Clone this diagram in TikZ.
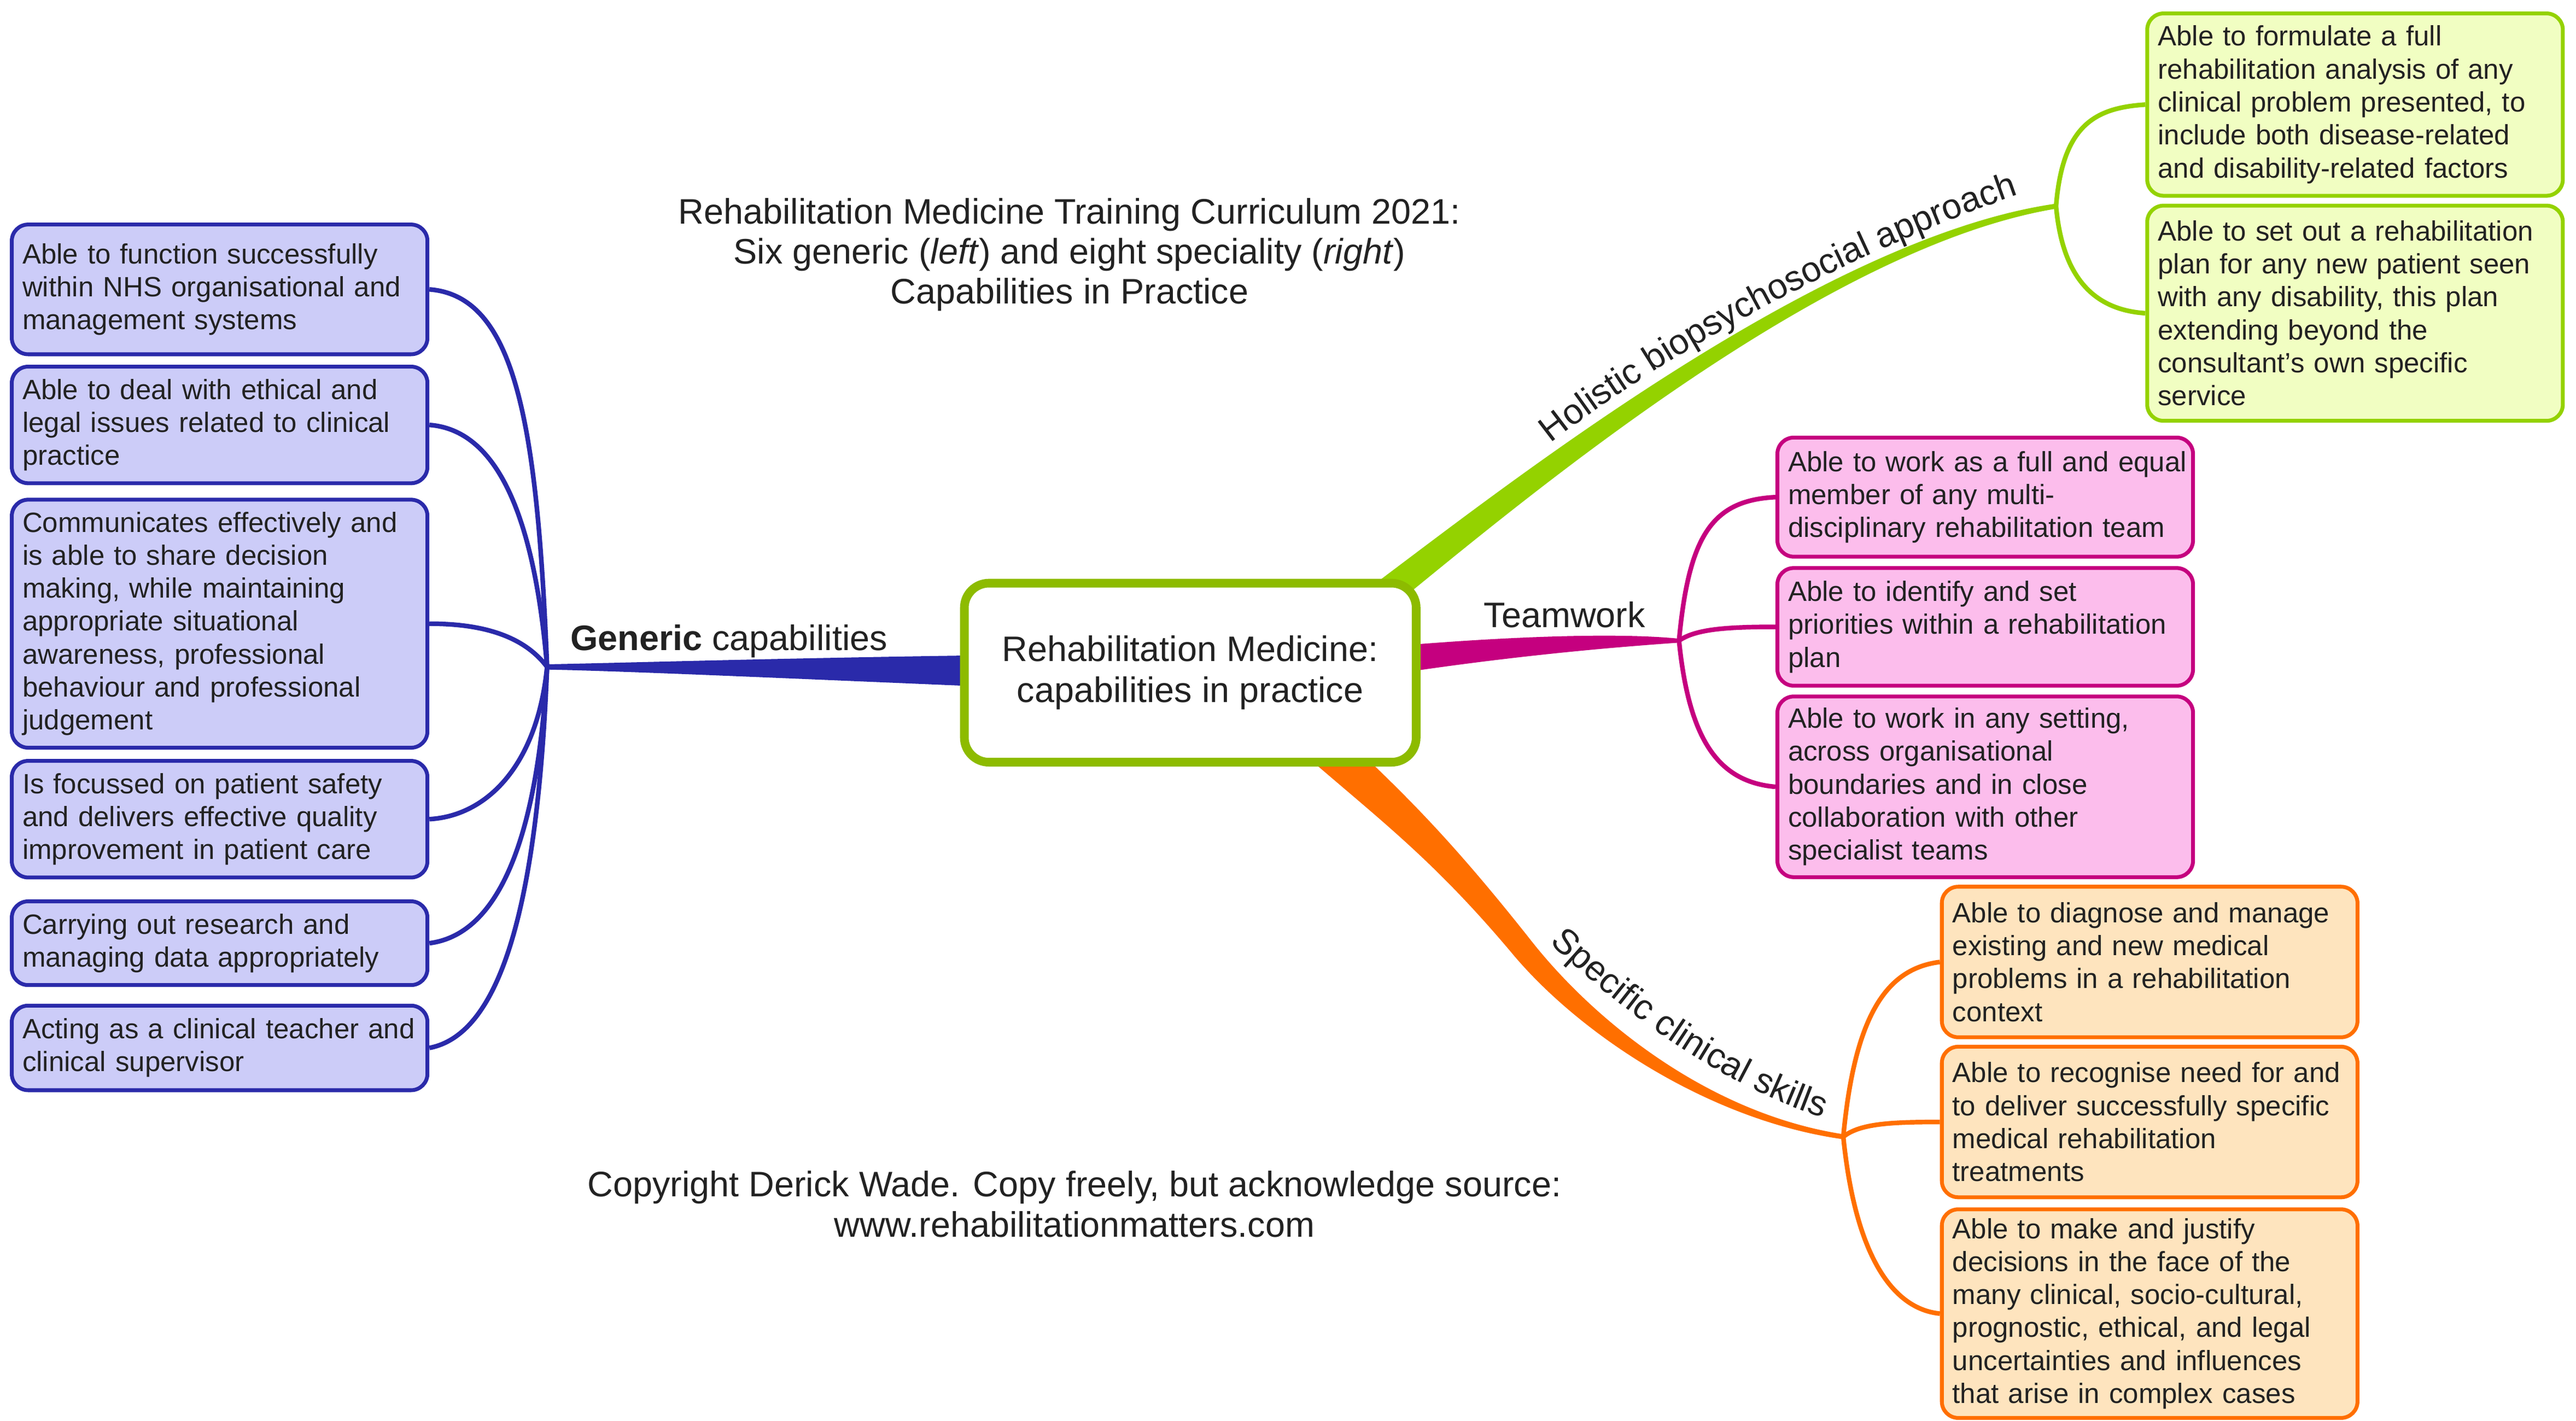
\documentclass[tikz,border=0pt]{standalone}
\usepackage{fontspec}
\setmainfont{Liberation Sans}
\usetikzlibrary{decorations.text}

\definecolor{ink}{HTML}{222222}
\definecolor{genline}{HTML}{2A2AAA}
\definecolor{genfill}{HTML}{CCCCF8}
\definecolor{holline}{HTML}{94D200}
\definecolor{holfill}{HTML}{F1FEC2}
\definecolor{teamline}{HTML}{C5007F}
\definecolor{teamfill}{HTML}{FCBDEC}
\definecolor{specline}{HTML}{FF6F00}
\definecolor{specfill}{HTML}{FEE4BE}
\definecolor{hubring}{HTML}{8DBB00}

\newcommand\boxfont{\fontsize{14.5pt}{17.13pt}\selectfont}
\newcommand\branchfont{\fontsize{18.4pt}{20.8pt}\selectfont}
\newcommand\centrefont{\fontsize{18.4pt}{21.5pt}\selectfont}

\begin{document}
\begin{tikzpicture}[x=0.03cm,y=-0.03cm,
    capbox/.style={draw,line width=2pt,rounded corners=0.3cm,anchor=north west,
      text width=7.2cm,inner xsep=0.195cm,inner ysep=0pt,align=left,font=\boxfont,text=ink},
    genbox/.style={capbox,draw=genline,fill=genfill},
    holbox/.style={capbox,draw=holline,fill=holfill},
    teambox/.style={capbox,draw=teamline,fill=teamfill},
    specbox/.style={capbox,draw=specline,fill=specfill},
    centrebox/.style={draw=hubring,line width=4.5pt,rounded corners=0.45cm,fill=white,
      minimum width=8.25cm,minimum height=3.27cm,align=center,font=\centrefont,text=ink},
    twig/.style={line width=2.4pt},
    plaintext/.style={font=\branchfont,text=ink,inner sep=0pt,align=center}]
    \useasboundingbox (0,0) rectangle (1568,865);
    \fill[white] (0,0) rectangle (1568,865);

    \coordinate (genhub) at (333,406);
    \coordinate (holhub) at (1251.5,125.5);
    \coordinate (teamhub) at (1022,390);
    \coordinate (spechub) at (1122,692);

    \fill[genline] (600,398.9) .. controls (480,400.5) and (380,403.5) .. (333,404.4)
      -- (333,407.6) .. controls (380,408.5) and (480,413) .. (600,418) -- cycle;
    \fill[holline] (829.5,360.9) .. controls (905.7,304.5) and (1104.5,145) .. (1251.3,124)
      -- (1251.7,127) .. controls (1105.5,151) and (914.3,315.5) .. (840.5,375.1) -- cycle;
    \fill[teamline] (850,393.2) .. controls (930,386.5) and (990,385.5) .. (1022,388.8)
      -- (1022,391.2) .. controls (990,393.5) and (930,398) .. (850,410) -- cycle;
    \fill[specline] (812.9,444) .. controls (857.25,484.7) and (886.2,514.9) .. (930.4,570.6)
      .. controls (969.6,621.2) and (1040.3,678) .. (1122.2,690.5)
      -- (1121.8,693.5) .. controls (1039.7,682) and (960.4,628.8) .. (919.6,579.4)
      .. controls (873.8,525.1) and (842.75,501.3) .. (797.1,462) -- cycle;

    \node[centrebox] (centre) at (724.5,409.5) {Rehabilitation Medicine:\\ capabilities in practice};

    \node[genbox,minimum height=2.37cm] (g1) at (6,135.5) {Able to function successfully\\within NHS organisational and\\management systems};
    \node[genbox,minimum height=2.13cm] (g2) at (6,222) {Able to deal with ethical and\\legal issues related to clinical\\practice};
    \node[genbox,minimum height=4.53cm] (g3) at (6,303) {Communicates effectively and\\is able to share decision\\making, while maintaining\\appropriate situational\\awareness, professional\\behaviour and professional\\judgement};
    \node[genbox,minimum height=2.13cm] (g4) at (6,462) {Is focussed on patient safety\\and delivers effective quality\\improvement in patient care};
    \node[genbox,minimum height=1.53cm] (g5) at (6,547.5) {Carrying out research and\\managing data appropriately};
    \node[genbox,minimum height=1.545cm] (g6) at (6,611) {\mbox{Acting as a clinical teacher and}\\clinical supervisor};

    \node[holbox,minimum height=3.33cm] (h1) at (1305.8,7) {Able to formulate a full\\rehabilitation analysis of any\\clinical problem presented, to\\include both disease-related\\and disability-related factors};
    \node[holbox,minimum height=3.93cm] (h2) at (1305.8,124) {Able to set out a rehabilitation\\plan for any new patient seen\\with any disability, this plan\\extending beyond the\\consultant’s own specific\\service};

    \node[teambox,minimum height=2.175cm] (t1) at (1080.7,265.2) {\mbox{Able to work as a full and equal}\\member of any multi-\\disciplinary rehabilitation team};
    \node[teambox,minimum height=2.15cm] (t2) at (1080.7,344.6) {Able to identify and set\\priorities within a rehabilitation\\plan};
    \node[teambox,minimum height=3.3cm] (t3) at (1080.7,422.8) {Able to work in any setting,\\across organisational\\boundaries and in close\\collaboration with other\\specialist teams};

    \node[specbox,minimum height=2.75cm] (s1) at (1180.8,538.6) {Able to diagnose and manage\\existing and new medical\\problems in a rehabilitation\\context};
    \node[specbox,minimum height=2.75cm] (s2) at (1180.8,636) {\mbox{Able to recognise need for and}\\to deliver successfully specific\\medical rehabilitation\\treatments};
    \node[specbox,minimum height=3.81cm] (s3) at (1180.8,735) {Able to make and justify\\decisions in the face of the\\many clinical, socio-cultural,\\prognostic, ethical, and legal\\uncertainties and influences\\that arise in complex cases};

    \draw[twig,genline] (genhub) .. controls +(-6,-150) and +(52,4) .. (g1.east);
    \draw[twig,genline] (genhub) .. controls +(-8,-95) and +(40,3) .. (g2.east);
    \draw[twig,genline] (genhub) .. controls +(-15,-20) and +(30,0) .. (g3.east);
    \draw[twig,genline] (genhub) .. controls +(-6,60) and +(35,-2) .. (g4.east);
    \draw[twig,genline] (genhub) .. controls +(-6,110) and +(40,-5) .. (g5.east);
    \draw[twig,genline] (genhub) .. controls +(-6,150) and +(42,-8) .. (g6.east);
    \draw[twig,holline] (holhub) .. controls +(4,-50) and +(-30,2) .. (h1.west);
    \draw[twig,holline] (holhub) .. controls +(4,45) and +(-30,-2) .. (h2.west);
    \draw[twig,teamline] (teamhub) .. controls +(6,-65) and +(-38,2) .. (t1.west);
    \draw[twig,teamline] (teamhub) .. controls +(10,-7) and +(-30,0) .. (t2.west);
    \draw[twig,teamline] (teamhub) .. controls +(6,60) and +(-35,-3) .. (t3.west);
    \draw[twig,specline] (spechub) .. controls +(7,-75) and +(-32,4) .. (s1.west);
    \draw[twig,specline] (spechub) .. controls +(10,-8) and +(-30,0) .. (s2.west);
    \draw[twig,specline] (spechub) .. controls +(7,70) and +(-30,-3) .. (s3.west);

    \node[plaintext,anchor=base west] (genlabel) at (347,396) {\textbf{Generic} capabilities};
    \node[plaintext,anchor=base west] (teamlabel) at (903,382) {Teamwork};
    \path[decorate,decoration={text along path,text align=center,text color=ink,
      text={|\branchfont|Holistic biopsychosocial approach}}]
      (928,283) .. controls (993,227) and (1123,152) .. (1248,112);
    \path[decorate,decoration={text along path,text align=center,text color=ink,
      text={|\branchfont|Specific clinical skills}}]
      (935,566) .. controls (975,605) and (1040,660) .. (1120,684);

    \node[plaintext] (title) at (651,155) {Rehabilitation Medicine Training Curriculum 2021:\\ Six generic (\textit{left}) and eight speciality (\textit{right})\\ Capabilities in Practice};
    \node[plaintext] (copyright) at (654,733) {Copyright Derick Wade. Copy freely, but acknowledge source:\\ www.rehabilitationmatters.com};
\end{tikzpicture}
\end{document}
